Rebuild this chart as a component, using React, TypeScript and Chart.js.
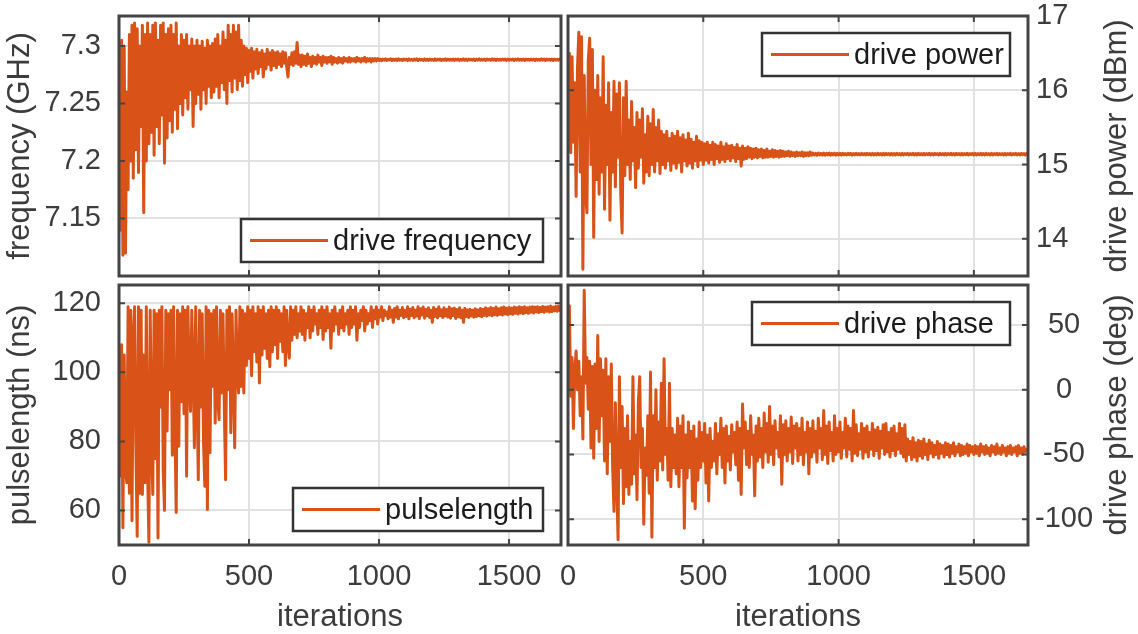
import React, { useEffect, useRef } from 'react';
import { Chart, registerables } from 'chart.js';

Chart.register(...registerables);

// ---------- data ----------
const ITER_STEP = 5; // one stored sample every 5 iterations
const xTicks = [0, 500, 1000, 1500];
const xTickLabels = ['0', '500', '1000', '1500'];

const freqTicks = [7.15, 7.2, 7.25, 7.3];
const freqTickLabels = ['7.15', '7.2', '7.25', '7.3'];
const powerTicks = [14, 15, 16, 17];
const powerTickLabels = ['14', '15', '16', '17'];
const pulseTicks = [60, 80, 100, 120];
const pulseTickLabels = ['60', '80', '100', '120'];
const phaseTicks = [-100, -50, 0, 50];
const phaseTickLabels = ['-100', '-50', '0', '50'];

const driveFrequency = [
  7.252,7.14,7.305,7.118,7.3,7.12,7.26,7.175,7.31,7.2,7.318,7.185,7.32,7.21,7.315,7.19,7.3,7.23,7.318,7.155,
  7.31,7.2,7.32,7.215,7.31,7.225,7.318,7.205,7.32,7.23,7.305,7.215,7.318,7.24,7.32,7.198,7.31,7.22,7.315,7.235,
  7.318,7.225,7.31,7.245,7.32,7.228,7.3,7.25,7.31,7.24,7.305,7.255,7.31,7.245,7.3,7.262,7.306,7.23,7.3,7.25,
  7.305,7.258,7.3,7.245,7.304,7.262,7.298,7.25,7.305,7.265,7.3,7.255,7.302,7.26,7.306,7.265,7.31,7.255,7.3,7.268,
  7.312,7.262,7.305,7.25,7.318,7.27,7.31,7.26,7.318,7.272,7.312,7.262,7.318,7.27,7.305,7.265,7.3,7.275,7.298,7.268,
  7.296,7.278,7.298,7.272,7.295,7.28,7.297,7.276,7.294,7.282,7.296,7.273,7.293,7.28,7.297,7.284,7.294,7.279,7.296,7.283,
  7.294,7.281,7.295,7.284,7.293,7.282,7.295,7.285,7.294,7.282,7.273,7.29,7.284,7.294,7.283,7.295,7.285,7.303,7.284,7.292,
  7.282,7.292,7.284,7.291,7.283,7.293,7.285,7.29,7.282,7.291,7.285,7.29,7.284,7.292,7.286,7.29,7.283,7.291,7.286,7.29,
  7.285,7.29,7.286,7.291,7.284,7.29,7.286,7.289,7.285,7.29,7.286,7.289,7.285,7.29,7.287,7.289,7.286,7.29,7.286,7.289,
  7.287,7.289,7.286,7.29,7.287,7.289,7.286,7.289,7.287,7.29,7.286,7.289,7.287,7.289,7.286,7.289,7.287,7.289,7.287,7.289,
  7.2874,7.2886,7.2871,7.2885,7.2876,7.2888,7.2873,7.2884,7.2877,7.2887,7.2872,7.2885,7.2875,7.2886,7.2874,7.2888,7.2876,7.2884,7.2873,7.2886,
  7.2877,7.2885,7.2872,7.2887,7.2875,7.2884,7.2874,7.2886,7.2876,7.2888,7.2873,7.2885,7.2877,7.2884,7.2874,7.2887,7.2875,7.2885,7.2873,7.2886,
  7.2876,7.2884,7.2874,7.2887,7.2875,7.2885,7.2877,7.2886,7.2873,7.2884,7.2876,7.2887,7.2874,7.2885,7.2876,7.2884,7.2875,7.2886,7.2874,7.2885,
  7.2877,7.2886,7.2874,7.2884,7.2876,7.2887,7.2875,7.2885,7.2874,7.2886,7.2877,7.2884,7.2875,7.2886,7.2874,7.2885,7.2876,7.2887,7.2875,7.2884,
  7.2876,7.2885,7.2874,7.2886,7.2877,7.2884,7.2875,7.2887,7.2876,7.2885,7.2874,7.2886,7.2876,7.2884,7.2875,7.2886,7.2877,7.2885,7.2874,7.2886,
  7.2875,7.2884,7.2877,7.2886,7.2874,7.2885,7.2876,7.2887,7.2875,7.2884,7.2876,7.2886,7.2874,7.2885,7.2877,7.2884,7.2875,7.2886,7.2876,7.2885,
  7.2874,7.2886,7.2876,7.2884,7.2875,7.2887,7.2876,7.2885,7.2874,7.2886,7.2877,7.2884,7.2875,7.2886,7.2874,7.2885,7.2876,7.2884,7.2875,7.2886,
];

const drivePower = [
  15.2,16.5,15.16,16.45,15.3,16.1,14.57,16.3,16.78,14.9,16.72,13.59,16.2,14.6,14.35,16.4,16.7,15.0,16.55,14.02,
  16.0,14.8,16.2,14.6,15.9,14.9,16.45,14.4,15.8,15.0,16.1,14.25,15.7,14.9,16.12,14.7,15.95,15.1,16.1,14.6,
  14.08,15.9,14.85,16.12,15.0,15.6,14.8,15.85,15.05,15.5,14.69,15.7,14.95,15.6,15.1,15.75,14.75,15.4,14.9,15.65,
  14.85,15.55,15.0,15.74,14.9,15.5,15.05,15.6,14.88,15.45,15.0,15.4,14.95,15.45,15.05,15.35,14.92,15.42,15.02,15.38,
  14.95,15.45,15.03,15.36,14.9,15.4,15.05,15.33,14.98,15.42,15.02,15.34,14.95,15.3,15.05,15.38,14.97,15.32,15.06,15.3,
  15.0,15.28,15.06,15.3,15.02,15.26,15.07,15.3,15.0,15.27,15.08,15.25,15.03,15.3,15.07,15.24,15.04,15.28,15.08,15.25,
  15.05,15.26,15.09,15.23,15.04,15.27,15.08,15.22,14.98,15.25,15.07,15.22,15.08,15.24,15.1,15.22,15.08,15.21,15.1,15.22,
  15.09,15.2,15.11,15.21,15.09,15.19,15.1,15.21,15.1,15.18,15.11,15.2,15.1,15.19,15.11,15.18,15.1,15.19,15.11,15.18,
  15.11,15.17,15.12,15.18,15.11,15.17,15.12,15.16,15.11,15.17,15.12,15.16,15.12,15.17,15.11,15.16,15.12,15.16,15.12,15.17,
  15.125,15.155,15.13,15.15,15.125,15.155,15.13,15.15,15.128,15.154,15.126,15.152,15.13,15.155,15.127,15.15,15.13,15.153,15.126,15.15,
  15.13,15.15,15.128,15.152,15.131,15.149,15.129,15.151,15.132,15.15,15.128,15.148,15.131,15.152,15.13,15.149,15.129,15.151,15.132,15.148,
  15.13,15.151,15.132,15.148,15.129,15.15,15.131,15.149,15.13,15.152,15.132,15.148,15.13,15.15,15.129,15.151,15.133,15.149,15.13,15.15,
  15.131,15.149,15.13,15.151,15.132,15.148,15.13,15.15,15.131,15.149,15.133,15.15,15.13,15.148,15.132,15.15,15.131,15.149,15.13,15.151,
  15.132,15.148,15.131,15.15,15.13,15.149,15.132,15.151,15.13,15.148,15.131,15.15,15.133,15.149,15.13,15.15,15.132,15.148,15.131,15.15,
  15.13,15.149,15.132,15.15,15.131,15.148,15.13,15.151,15.132,15.149,15.131,15.15,15.13,15.148,15.132,15.15,15.131,15.149,15.133,15.15,
  15.131,15.15,15.13,15.148,15.132,15.151,15.13,15.149,15.131,15.15,15.132,15.148,15.13,15.15,15.131,15.149,15.132,15.15,15.13,15.148,
  15.132,15.149,15.13,15.15,15.131,15.148,15.133,15.15,15.13,15.149,15.132,15.15,15.131,15.148,15.13,15.15,15.132,15.149,15.131,15.15,
];

const pulselength = [
  98,70,108,55,105,72,68,119,65,118,57,110,119,78,52.5,119,65,118,64.6,105,
  68,119,72,50.8,118,80,64.6,118,75,117,52,118,90,119,71.8,60,118,83,117,95,
  118,76,119,85,59.4,118,78.6,117,91.5,119,88,118,69.9,119,98,88.7,118,100,78.2,119,
  95,68.9,118,90,117,80,67,119,60.3,118,76.7,117,96,118,85.3,119,92,86.3,118,94,
  117,90,68.9,118,95,119,82.5,117,98,78.2,118,100,94,119,96,118,94,117,102,119,
  104,118,99,119,106,117,103,119,96.9,118,105,119,107,117,104,118,101.6,119,106,118,
  108,119,104,118,109,117,106,119,102,118,108,104.1,119,109.3,118,111,119,110,117,112,
  119,111,118,109.3,117,113,119,110,118,112,119,114,117,111,118,113,119,109.5,118,112,
  119,113,117,107,118,112,119,114,117,111,118,113,119,112,117,114,118,111,119,113,
  118,114,119,109.3,117,113,118,115,119,112,118,114,117,115,119,113,118,115.5,119,114,
  118,116,119,115,118,116.5,117.5,115.5,119,116,118,114.5,118.5,116,119,115.5,118,116.5,118.8,115.8,
  118,116.2,119,115.5,118.3,116.5,118.8,115.8,118,116.3,119,115.6,118.4,116.6,118.9,115.7,118.2,116.4,118.7,115.9,
  118,114.5,118.8,116.2,118.3,115.8,119,116.4,118.1,115.9,118.7,116.3,118.2,116,118.9,115.7,118.4,116.5,118.6,115.6,
  118.2,116.1,118.7,115.8,118,114.5,118.5,116.2,118.1,115.9,118.3,116.3,118,116,118.4,116.2,118.1,116.4,118.5,116.1,
  118.3,116.5,118.7,116.3,118.4,116.6,118.8,116.4,118.5,116.7,118.9,116.5,118.4,116.8,118.7,116.6,118.9,116.9,118.6,116.7,
  118.8,117,118.6,116.8,118.9,117.1,118.7,116.9,119,117.2,118.8,117,119,117.3,118.7,117.1,118.9,117.4,119,117.2,
  118.9,117.5,119,117.3,118.8,117.6,119.1,117.4,118.9,117.7,119,117.5,119.2,117.6,118.9,117.8,119.1,117.7,119.2,117.9,
];

const drivePhase = [
  20,65,-5,25,-30,15,30,0,22,-20,10,-38,77,5,25,-15,22,-45,18,-53,
  20,-30,42,-40,24,-20,15,-55,24,-65,10,-40,20,-60,-94,-10,-70,-116,10,-60,
  -13,-88,-30,-75,-20,-81,-40,-73,10,-65,-35,-85,-10,10,-60,-30,-104,-45,-66,-20,
  -80,13.7,-114,-20,-60,0,-70,-25,-55,5,-62,24,-50,-30,-70,5,-75,-30,-60,-35,
  -65,-22,-75,-28,-60,-20,-107,-35,-68,-25,-60,-32,-86,-28,-92,-38,-70,-25,-60,-33,
  -55,-26,-72,-35,-86,-30,-60,-40,-55,-26,-65,-34,-50,-22,-60,-30,-72,-28,-55,-36,
  -62,-27,-48,-33,-58,-25,-70,-30,-81,-11,-45,-25,-58,-32,-60,-20,-50,-35,-82,-28,
  -55,-22,-52,-30,-60,-18,-48,-26,-56,-13,-50,-28,-58,-24,-45,-33,-52,-20,-73,-27,
  -50,-24,-55,-30,-48,-21,-57,-28,-45,-26,-55,-30,-50,-22,-58,-33,-48,-25,-65,-30,
  -52,-24,-48,-32,-56,-22,-45,-30,-54,-16,-50,-28,-57,-25,-47,-33,-55,-20,-50,-30,
  -48,-25,-53,-33,-45,-22,-52,-28,-46,-30,-55,-16,-49,-27,-51,-34,-46,-26,-53,-30,
  -48,-28,-52,-33,-46,-26,-51,-31,-47,-29,-53,-32,-45,-27,-50,-26,-48,-33,-52,-30,
  -47,-28,-51,-34,-46,-26,-49,-30,-52,-27,-55,-38,-50,-40,-54,-37,-52,-41,-55,-39,
  -51,-40,-53,-38,-50,-42,-54,-39,-49,-41,-52,-43,-50,-40,-53,-42,-49,-43,-52,-41,
  -50,-42,-52,-43,-49,-41,-51,-44,-48,-42,-51,-43,-50,-44,-49,-42,-51,-43,-48,-44,
  -50,-43,-49,-44,-51,-42,-48,-44,-50,-43,-49,-45,-51,-43,-48,-44,-50,-42,-49,-45,
  -50,-43,-48,-45,-51,-44,-49,-43,-50,-45,-48,-44,-51,-43,-49,-45,-50,-44,-48,-46,
];

// ---------- styling ----------
const W = 1138;
const H = 634;
const FAMILY = "'Liberation Sans', Arial, Helvetica, sans-serif";
const ORANGE = '#D95319';
const AXIS = '#444444';
const TEXT = '#3c3c3c';
const GRID = '#e1e1e1';
const LEGEND_TEXT = '#1c1c1c';

type Box = { l: number; t: number; r: number; b: number };
type PanelDef = {
  key: string;
  label: string;
  values: number[];
  yTitle: string;
  yTicks: number[];
  yLabels: string[];
  yMin: number;
  yMax: number;
  side: 'left' | 'right';
  showX: boolean;
  area: Box;
  legend: Box;
};

const panels: PanelDef[] = [
  {
    key: 'freq', label: 'drive frequency', values: driveFrequency, yTitle: 'frequency (GHz)',
    yTicks: freqTicks, yLabels: freqTickLabels, yMin: 7.1, yMax: 7.326, side: 'left', showX: false,
    area: { l: 119, t: 16, r: 561, b: 276 }, legend: { l: 241, t: 219, r: 543, b: 262 },
  },
  {
    key: 'power', label: 'drive power', values: drivePower, yTitle: 'drive power (dBm)',
    yTicks: powerTicks, yLabels: powerTickLabels, yMin: 13.5, yMax: 17, side: 'right', showX: false,
    area: { l: 568, t: 16, r: 1028, b: 276 }, legend: { l: 762, t: 33, r: 1010, b: 76 },
  },
  {
    key: 'pulse', label: 'pulselength', values: pulselength, yTitle: 'pulselength (ns)',
    yTicks: pulseTicks, yLabels: pulseTickLabels, yMin: 50, yMax: 125.3, side: 'left', showX: true,
    area: { l: 119, t: 285, r: 561, b: 545 }, legend: { l: 293, t: 488, r: 543, b: 531 },
  },
  {
    key: 'phase', label: 'drive phase', values: drivePhase, yTitle: 'drive phase (deg)',
    yTicks: phaseTicks, yLabels: phaseTickLabels, yMin: -120, yMax: 81, side: 'right', showX: true,
    area: { l: 568, t: 285, r: 1028, b: 545 }, legend: { l: 752, t: 302, r: 1010, b: 345 },
  },
];

function framePlugin(p: PanelDef) {
  return {
    id: 'matlabFrame_' + p.key,
    afterDraw(chart: any) {
      const { ctx, chartArea: a, scales } = chart;
      const tl = 6;
      ctx.save();
      // inward tick marks on all four sides
      ctx.strokeStyle = AXIS;
      ctx.lineWidth = 2;
      ctx.beginPath();
      for (const v of xTicks) {
        const px = scales.x.getPixelForValue(v);
        ctx.moveTo(px, a.bottom); ctx.lineTo(px, a.bottom - tl);
        ctx.moveTo(px, a.top); ctx.lineTo(px, a.top + tl);
      }
      for (const v of p.yTicks) {
        const py = scales.y.getPixelForValue(v);
        ctx.moveTo(a.left, py); ctx.lineTo(a.left + tl, py);
        ctx.moveTo(a.right, py); ctx.lineTo(a.right - tl, py);
      }
      ctx.stroke();
      // box
      ctx.lineWidth = 3;
      ctx.strokeRect(a.left, a.top, a.right - a.left, a.bottom - a.top);

      // legend
      const L = p.legend;
      ctx.fillStyle = '#ffffff';
      ctx.fillRect(L.l, L.t, L.r - L.l, L.b - L.t);
      ctx.lineWidth = 2.5;
      ctx.strokeStyle = '#333333';
      ctx.strokeRect(L.l, L.t, L.r - L.l, L.b - L.t);
      const cy = (L.t + L.b) / 2;
      const ds = chart.data.datasets[0];
      ctx.strokeStyle = ds.borderColor;
      ctx.lineWidth = 3;
      ctx.beginPath();
      ctx.moveTo(L.l + 9, cy);
      ctx.lineTo(L.l + 87, cy);
      ctx.stroke();
      ctx.fillStyle = LEGEND_TEXT;
      ctx.font = `29px ${FAMILY}`;
      ctx.textAlign = 'left';
      ctx.textBaseline = 'middle';
      ctx.fillText(ds.label, L.l + 92, cy + 1);

      // right-hand axis title, reading bottom to top
      if (p.side === 'right') {
        ctx.translate(a.right + 89, (a.top + a.bottom) / 2);
        ctx.rotate(-Math.PI / 2);
        ctx.font = `31px ${FAMILY}`;
        ctx.fillStyle = TEXT;
        ctx.textAlign = 'center';
        ctx.textBaseline = 'middle';
        ctx.fillText(p.yTitle, 0, 0);
      }
      ctx.restore();
    },
  };
}

function makeConfig(p: PanelDef): any {
  const left = p.side === 'left';
  return {
    type: 'line',
    data: {
      datasets: [
        {
          label: p.label,
          data: p.values.map((y, i) => ({ x: i * ITER_STEP, y })),
          borderColor: ORANGE,
          backgroundColor: ORANGE,
          borderWidth: 3,
          borderJoinStyle: 'round',
          borderCapStyle: 'round',
          pointRadius: 0,
          tension: 0,
          fill: false,
        },
      ],
    },
    options: {
      responsive: false,
      maintainAspectRatio: false,
      animation: false,
      events: [],
      layout: {
        padding: {
          left: left ? 0 : p.area.l,
          right: left ? W - p.area.r : 0,
          top: p.area.t,
          bottom: 0,
        },
      },
      plugins: { legend: { display: false }, tooltip: { enabled: false } },
      scales: {
        x: {
          type: 'linear',
          position: 'bottom',
          min: 0,
          max: 1700,
          afterBuildTicks: (s: any) => { s.ticks = xTicks.map((v) => ({ value: v })); },
          afterFit: (s: any) => {
            s.height = H - p.area.b;
            s.paddingLeft = 0; s.paddingRight = 0; s.paddingTop = 0; s.paddingBottom = 0;
          },
          ticks: {
            display: p.showX,
            autoSkip: false,
            maxRotation: 0,
            padding: 15,
            color: TEXT,
            font: { family: FAMILY, size: 29 },
            callback: (_v: any, i: number) => xTickLabels[i],
          },
          grid: { color: GRID, lineWidth: 2, drawTicks: false },
          border: { display: false },
          title: {
            display: p.showX,
            text: 'iterations',
            color: TEXT,
            font: { family: FAMILY, size: 31, lineHeight: 1 },
            padding: { top: 0, bottom: 1.5 },
          },
        },
        y: {
          type: 'linear',
          position: p.side,
          min: p.yMin,
          max: p.yMax,
          afterBuildTicks: (s: any) => { s.ticks = p.yTicks.map((v) => ({ value: v })); },
          afterFit: (s: any) => {
            s.width = left ? p.area.l : W - p.area.r;
            s.paddingLeft = 0; s.paddingRight = 0; s.paddingTop = 0; s.paddingBottom = 0;
          },
          ticks: {
            autoSkip: false,
            padding: left ? 18 : (p.key === 'phase' ? 7 : 8),
            crossAlign: p.key === 'phase' ? 'center' : 'near',
            color: TEXT,
            font: { family: FAMILY, size: 29 },
            callback: (_v: any, i: number) => p.yLabels[i],
          },
          grid: { color: GRID, lineWidth: 2, drawTicks: false },
          border: { display: false },
          title: {
            display: left,
            text: p.yTitle,
            color: TEXT,
            font: { family: FAMILY, size: 31, lineHeight: 1 },
            padding: { top: 5, bottom: 0 },
          },
        },
      },
    },
    plugins: [framePlugin(p)],
  };
}

function PanelChart({ panel }: { panel: PanelDef }) {
  const ref = useRef<HTMLCanvasElement | null>(null);
  useEffect(() => {
    if (!ref.current) return;
    const chart = new Chart(ref.current, makeConfig(panel));
    return () => chart.destroy();
  }, [panel]);
  return (
    <canvas
      ref={ref}
      width={W}
      height={H}
      style={{ position: 'absolute', left: 0, top: 0, width: W, height: H }}
    />
  );
}

export default function App() {
  return (
    <div
      style={{
        position: 'absolute',
        left: 0,
        top: 0,
        width: W,
        height: H,
        background: '#ffffff',
        overflow: 'hidden',
      }}
    >
      {panels.map((p) => (
        <PanelChart key={p.key} panel={p} />
      ))}
    </div>
  );
}
